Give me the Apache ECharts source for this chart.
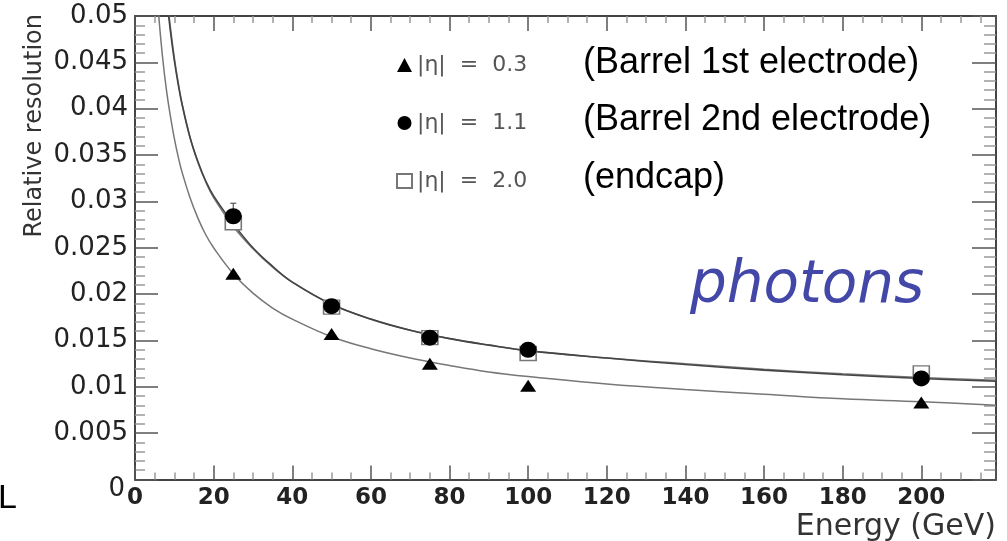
<!DOCTYPE html>
<html>
<head>
<meta charset="utf-8">
<title>Relative resolution vs energy - photons</title>
<script src="https://cdn.jsdelivr.net/npm/echarts@6/dist/echarts.min.js"></script>
<style>
  html, body { margin: 0; padding: 0; background: #fff; }
  #chart { width: 1007px; height: 541px; }
</style>
</head>
<body>
<div id="chart"></div>
<script>
// measured points (GeV, relative resolution)
const energy = [25, 50, 75, 100, 200]
const resEta03 = [0.0222, 0.0157, 0.0125, 0.0101, 0.0083]
const resEta11 = [0.0284, 0.0187, 0.0153, 0.0140, 0.0109]
const errEta11 = [0.0014, 0.0006, 0.0004, 0.0004, 0.0004]
const resEta20 = [0.0277, 0.0186, 0.0153, 0.0136, 0.0115]

// fitted curves
const fitEnergyLow = [5.5, 6, 7, 8, 9, 10, 11, 12, 14, 16, 18, 20, 25, 30, 35, 40, 50, 60, 70, 80, 90, 100, 120, 140, 160, 180, 200, 219]
const fitEta03 = [0.0530, 0.0502, 0.0456, 0.0420, 0.0392, 0.0368, 0.0348, 0.0331, 0.0304, 0.0282, 0.0264, 0.0250, 0.0222, 0.0201, 0.0185, 0.0173, 0.0154, 0.0141, 0.0131, 0.0123, 0.0116, 0.0111, 0.0103, 0.0097, 0.0092, 0.0087, 0.0084, 0.0080]
const fitEnergyHigh = [7.5, 8, 9, 10, 11, 12, 14, 16, 18, 20, 25, 30, 35, 40, 50, 60, 70, 80, 90, 100, 120, 140, 160, 180, 200, 219]
const fitEta11 = [0.0548, 0.0522, 0.0484, 0.0452, 0.0426, 0.0404, 0.0369, 0.0343, 0.0322, 0.0306, 0.0276, 0.0250, 0.0230, 0.0213, 0.0189, 0.0173, 0.0161, 0.0152, 0.0145, 0.0139, 0.0131, 0.0124, 0.0118, 0.0113, 0.0109, 0.0106]
const fitEta20 = [0.0555, 0.0528, 0.0488, 0.0455, 0.0428, 0.0405, 0.0369, 0.0342, 0.0321, 0.0304, 0.0273, 0.0249, 0.0229, 0.0213, 0.0189, 0.0173, 0.0161, 0.0152, 0.0145, 0.0139, 0.0131, 0.0125, 0.0119, 0.0114, 0.0110, 0.0107]

const legendNames = ['|η|  =  0.3', '|η|  =  1.1', '|η|  =  2.0']
const regionNames = ['(Barrel 1st electrode)', '(Barrel 2nd electrode)', '(endcap)']

const zip = (xs, ys) => xs.map((x, i) => [x, ys[i]])

const frameLine = { show: true, onZero: false, lineStyle: { color: '#444', width: 2 } }
const tickLine = { color: '#555', width: 1.5 }
const minorLine = { color: '#999', width: 1.5 }

const chart = echarts.init(document.getElementById('chart'))

chart.setOption({
  animation: false,
  backgroundColor: '#fff',
  grid: {
    left: 135,
    top: 16,
    width: 861,
    height: 463.5,
    outerBoundsMode: 'none'
  },
  legend: {
    orient: 'vertical',
    left: 396,
    top: 54,
    padding: 0,
    itemWidth: 15,
    itemHeight: 14,
    itemGap: 36,
    selectedMode: false,
    data: legendNames,
    textStyle: {
      fontFamily: 'DejaVu Sans',
      fontSize: 22,
      lineHeight: 22,
      color: '#555'
    }
  },
  xAxis: [
    {
      type: 'value',
      min: 0,
      max: 219,
      interval: 20,
      name: 'Energy (GeV)',
      nameLocation: 'end',
      nameGap: 0,
      nameMoveOverlap: false,
      nameTextStyle: {
        fontFamily: 'DejaVu Sans',
        fontSize: 30,
        color: '#333',
        align: 'right',
        verticalAlign: 'top',
        padding: [33, 0, 0, 0]
      },
      axisLine: frameLine,
      axisTick: { show: true, inside: true, length: 14, lineStyle: tickLine },
      minorTick: { show: true, splitNumber: 4, length: 7, lineStyle: minorLine },
      splitLine: { show: false },
      axisLabel: {
        margin: 7,
        showMaxLabel: false,
        fontFamily: 'DejaVu Sans',
        fontWeight: 'bold',
        fontSize: 23,
        color: '#222'
      }
    },
    {
      type: 'value',
      position: 'top',
      min: 0,
      max: 219,
      interval: 20,
      axisLine: frameLine,
      axisTick: { show: true, inside: true, length: 15, lineStyle: tickLine },
      minorTick: { show: true, splitNumber: 4, length: 7, lineStyle: minorLine },
      splitLine: { show: false },
      axisLabel: { show: false }
    }
  ],
  yAxis: [
    {
      type: 'value',
      min: 0,
      max: 0.05,
      interval: 0.005,
      name: 'Relative resolution',
      nameLocation: 'end',
      nameRotate: 90,
      nameGap: 2,
      nameMoveOverlap: false,
      nameTextStyle: {
        fontFamily: 'DejaVu Sans',
        fontSize: 24,
        color: '#333',
        align: 'right',
        verticalAlign: 'bottom',
        padding: [0, 0, 88, 0]
      },
      axisLine: frameLine,
      axisTick: { show: true, inside: true, length: 23, lineStyle: tickLine },
      minorTick: { show: true, splitNumber: 5, length: 10, lineStyle: minorLine },
      splitLine: { show: false },
      axisLabel: {
        margin: 7,
        fontFamily: 'DejaVu Sans',
        fontSize: 26,
        color: '#222',
        formatter: v => (v === 0 ? '{z|0}' : String(+v.toFixed(3))),
        rich: {
          z: { fontFamily: 'DejaVu Sans', fontSize: 26, color: '#222', padding: [20, 3, 0, 0] }
        }
      }
    },
    {
      type: 'value',
      position: 'right',
      min: 0,
      max: 0.05,
      interval: 0.005,
      axisLine: frameLine,
      axisTick: { show: true, inside: true, length: 24, lineStyle: tickLine },
      minorTick: { show: true, splitNumber: 5, length: 12, lineStyle: minorLine },
      splitLine: { show: false },
      axisLabel: { show: false }
    }
  ],
  graphic: [
    {
      type: 'text',
      left: 583,
      top: 45,
      style: { text: regionNames[0], font: '36px "Liberation Sans"', fill: '#000' }
    },
    {
      type: 'text',
      left: 583,
      top: 102,
      style: { text: regionNames[1], font: '36px "Liberation Sans"', fill: '#000' }
    },
    {
      type: 'text',
      left: 583,
      top: 160,
      style: { text: regionNames[2], font: '36px "Liberation Sans"', fill: '#000' }
    },
    {
      type: 'text',
      left: 690,
      top: 258,
      style: { text: 'photons', font: 'italic 58px "DejaVu Sans"', fill: '#4347a8' }
    },
    {
      type: 'text',
      left: -2,
      top: 482,
      style: { text: 'L', font: '34px "Liberation Sans"', fill: '#000' }
    }
  ],
  series: [
    {
      type: 'line',
      data: zip(fitEnergyLow, fitEta03),
      smooth: 0.4,
      symbol: 'none',
      silent: true,
      z: 1,
      lineStyle: { color: '#777', width: 1.5 }
    },
    {
      type: 'line',
      data: zip(fitEnergyHigh, fitEta20),
      smooth: 0.4,
      symbol: 'none',
      silent: true,
      z: 1,
      lineStyle: { color: '#777', width: 1.5 }
    },
    {
      type: 'line',
      data: zip(fitEnergyHigh, fitEta11),
      smooth: 0.4,
      symbol: 'none',
      silent: true,
      z: 1,
      lineStyle: { color: '#444', width: 1.6 }
    },
    {
      // error bars of the |eta| = 1.1 points
      type: 'custom',
      z: 2,
      silent: true,
      data: energy.map((e, i) => [e, resEta11[i] - errEta11[i], resEta11[i] + errEta11[i]]),
      renderItem(params, api) {
        const lo = api.coord([api.value(0), api.value(1)])
        const hi = api.coord([api.value(0), api.value(2)])
        const st = { stroke: '#555', lineWidth: 1.2 }
        return {
          type: 'group',
          children: [
            { type: 'line', shape: { x1: lo[0], y1: lo[1], x2: hi[0], y2: hi[1] }, style: st },
            { type: 'line', shape: { x1: hi[0] - 3, y1: hi[1], x2: hi[0] + 3, y2: hi[1] }, style: st },
            { type: 'line', shape: { x1: lo[0] - 3, y1: lo[1], x2: lo[0] + 3, y2: lo[1] }, style: st }
          ]
        }
      }
    },
    {
      name: legendNames[2],
      type: 'scatter',
      z: 3,
      symbol: 'rect',
      symbolSize: [16, 14],
      itemStyle: { color: '#fff', borderColor: '#777', borderWidth: 1.5, opacity: 1 },
      data: zip(energy, resEta20)
    },
    {
      name: legendNames[1],
      type: 'scatter',
      z: 4,
      symbol: 'circle',
      symbolSize: [17, 16],
      itemStyle: { color: '#000', opacity: 1 },
      data: zip(energy, resEta11)
    },
    {
      name: legendNames[0],
      type: 'scatter',
      z: 4,
      symbol: 'triangle',
      symbolSize: [16, 12],
      itemStyle: { color: '#000', opacity: 1 },
      data: zip(energy, resEta03)
    }
  ]
})
</script>
</body>
</html>
